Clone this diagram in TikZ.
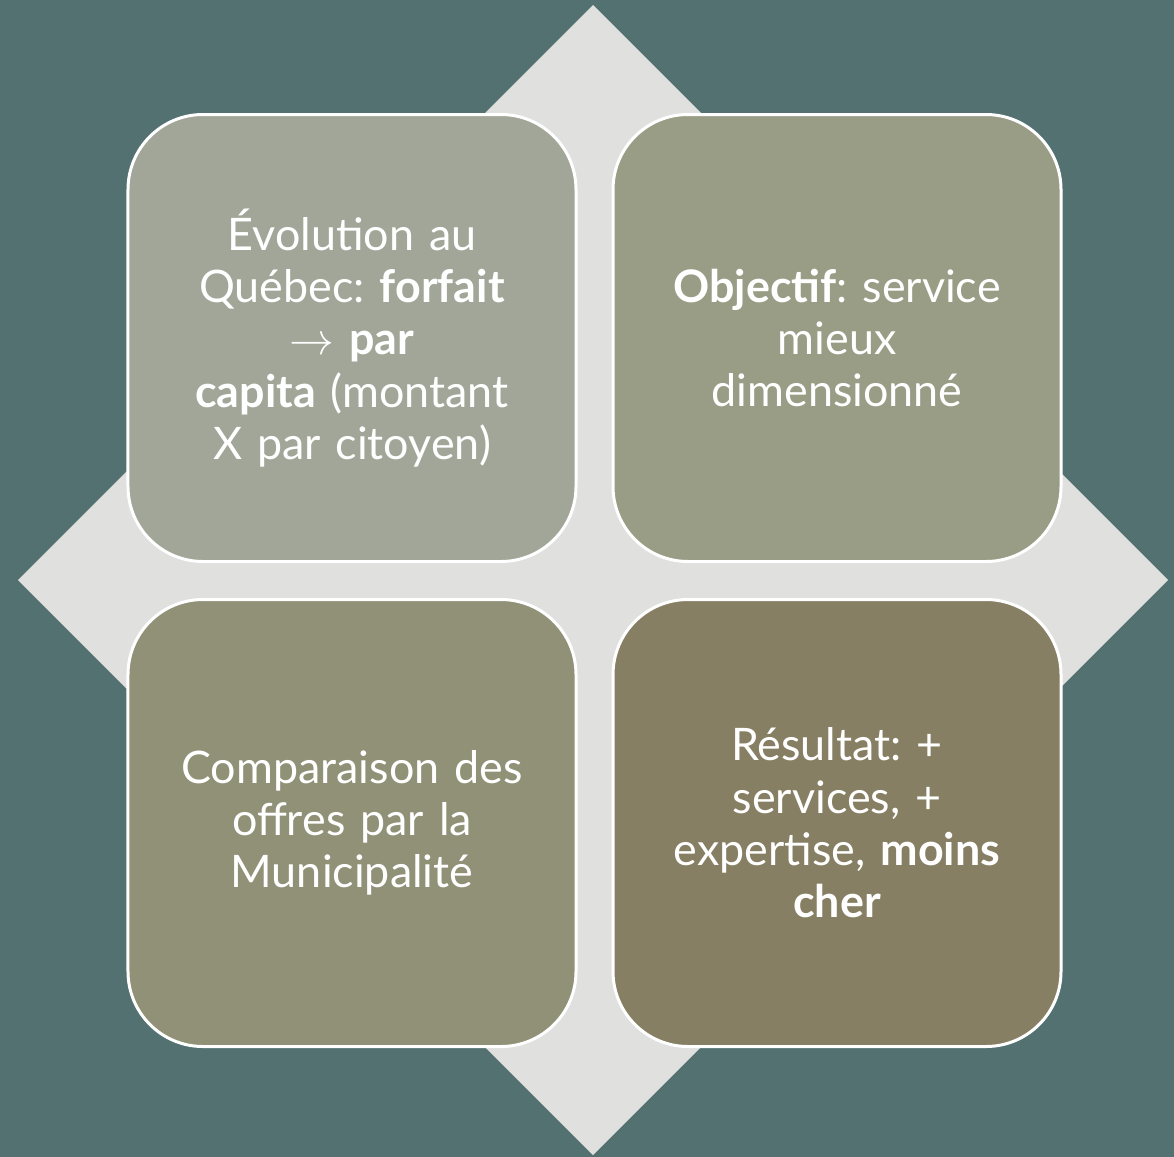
\RequirePackage{fix-cm}
\documentclass[tikz,border=0pt]{standalone}
\usepackage{fontspec}
\setmainfont{Lato}
\usepackage{tikz}
\usetikzlibrary{positioning}
\definecolor{background}{HTML}{527170}
\definecolor{diamondgray}{HTML}{E0E0DF}
\definecolor{tileone}{HTML}{A2A698}
\definecolor{tiletwo}{HTML}{9A9D86}
\definecolor{tilethree}{HTML}{919177}
\definecolor{tilefour}{HTML}{877F63}
\frenchspacing

\tikzset{
  tile/.style={draw=white, line width=3bp, rounded corners=75bp,
    minimum width=448bp, minimum height=447bp, text width=420bp,
    align=center, text=white, font=\fontsize{45}{52.5}\selectfont},
}

\begin{document}
\begin{tikzpicture}[x=1bp, y=-1bp]
     \fill[background] (0,0) rectangle (1174,1157);
     \useasboundingbox (0,0) rectangle (1174,1157);
     \fill[diamondgray] (593,5) -- (1168,580) -- (593,1155) -- (18,580) -- cycle;

     \node[tile, fill=tileone] (evol) at (352,338)
        {Évolution au\\ Québec: \textbf{forfait}\\ $\rightarrow$ \textbf{par}\\ \textbf{capita} (montant\\ X par citoyen)};
     \node[tile, fill=tiletwo, right=34bp of evol] (obj)
        {\textbf{Objectif}: service\\ mieux\\ dimensionné};
     \node[tile, fill=tilethree, below=35bp of evol] (comp)
        {Comparaison des\\ offres par la\\ Municipalité};
     \node[tile, fill=tilefour, below=35bp of obj] (res)
        {Résultat: +\\ services, +\\ expertise, \textbf{moins}\\ \textbf{cher}};
   \end{tikzpicture}
\end{document}
